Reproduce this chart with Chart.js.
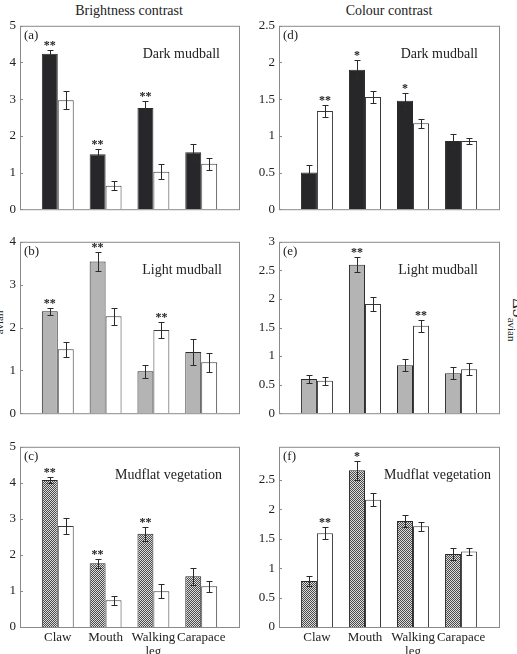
<!DOCTYPE html>
<html>
<head>
<meta charset="utf-8">
<script src="https://cdn.jsdelivr.net/npm/chart.js@4"></script>
<style>
body { margin: 0; background: #fff; }
#page { position: relative; width: 517px; height: 654px; overflow: hidden; font-family: "Liberation Serif", "DejaVu Serif", serif; color: #222; }
canvas { position: absolute; }
.title { position: absolute; top: 3px; font-size: 14px; transform: translateX(-50%); white-space: nowrap; }
.ylab { position: absolute; font-size: 16px; white-space: nowrap; line-height: 1; }
.ylab sub { font-size: 11px; }
</style>
</head>
<body>
<div id="page">
  <div class="title" style="left:129px">Brightness contrast</div>
  <div class="title" style="left:389px">Colour contrast</div>
  <div class="ylab" style="left:-5px; top:332px; transform: translate(-50%,-50%) rotate(-90deg)">ΔS<sub>avian</sub></div>
  <div class="ylab" style="left:516px; top:320px; transform: translate(-50%,-50%) rotate(90deg)">ΔS<sub>avian</sub></div>
</div>
<script>
const categories = ['Claw', 'Mouth', ['Walking', 'leg'], 'Carapace']

// (a) brightness, dark mudball
const aFilled = [4.24, 1.50, 2.76, 1.55]
const aFilledErr = [0.09, 0.13, 0.2, 0.22]
const aOpen = [2.97, 0.64, 1.02, 1.24]
const aOpenErr = [0.24, 0.12, 0.2, 0.16]
const aFilledStars = ['**', '**', '**', '']
const aOpenStars = ['', '', '', '']
const aTicks = [0, 1, 2, 3, 4, 5]

// (b) brightness, light mudball
const bFilled = [2.38, 3.54, 0.98, 1.43]
const bFilledErr = [0.08, 0.23, 0.15, 0.31]
const bOpen = [1.49, 2.26, 1.94, 1.19]
const bOpenErr = [0.17, 0.2, 0.18, 0.22]
const bFilledStars = ['**', '**', '', '']
const bOpenStars = ['', '', '**', '']
const bTicks = [0, 1, 2, 3, 4]

// (c) brightness, mudflat vegetation
const cFilled = [4.08, 1.77, 2.59, 1.41]
const cFilledErr = [0.08, 0.12, 0.19, 0.24]
const cOpen = [2.80, 0.74, 0.99, 1.13]
const cOpenErr = [0.23, 0.12, 0.19, 0.15]
const cFilledStars = ['**', '**', '**', '']
const cOpenStars = ['', '', '', '']
const cTicks = [0, 1, 2, 3, 4, 5]

// (d) colour, dark mudball
const dFilled = [0.50, 1.90, 1.48, 0.93]
const dFilledErr = [0.1, 0.13, 0.11, 0.1]
const dOpen = [1.34, 1.53, 1.17, 0.93]
const dOpenErr = [0.08, 0.08, 0.06, 0.04]
const dFilledStars = ['', '*', '*', '']
const dOpenStars = ['**', '', '', '']
const dTicks = [0, 0.5, 1, 1.5, 2, 2.5]

// (e) colour, light mudball
const eFilled = [0.60, 2.60, 0.84, 0.70]
const eFilledErr = [0.07, 0.13, 0.1, 0.11]
const eOpen = [0.57, 1.91, 1.53, 0.77]
const eOpenErr = [0.07, 0.12, 0.11, 0.11]
const eFilledStars = ['', '**', '', '']
const eOpenStars = ['', '', '**', '']
const eTicks = [0, 0.5, 1, 1.5, 2, 2.5, 3]

// (f) colour, mudflat vegetation
const fFilled = [0.78, 2.66, 1.80, 1.24]
const fFilledErr = [0.08, 0.16, 0.11, 0.1]
const fOpen = [1.59, 2.16, 1.71, 1.28]
const fOpenErr = [0.1, 0.11, 0.08, 0.06]
const fFilledStars = ['', '*', '', '']
const fOpenStars = ['**', '', '', '']
const fTicks = [0, 0.5, 1, 1.5, 2, 2.5]

Chart.defaults.font.family = '"Liberation Serif", "DejaVu Serif", serif'
Chart.defaults.color = '#222'

// checkered fill for the vegetation panels
function hatch() {
    const c = document.createElement('canvas')
    c.width = 2
    c.height = 2
    const g = c.getContext('2d')
    g.fillStyle = '#dcdcdc'
    g.fillRect(0, 0, 2, 2)
    g.fillStyle = '#4a4a4a'
    g.fillRect(0, 0, 1, 1)
    g.fillRect(1, 1, 1, 1)
    return g.createPattern(c, 'repeat')
}

const extras = {
    id: 'extras',
    afterDatasetsDraw(chart) {
        const ctx = chart.ctx
        const y = chart.scales.y
        chart.data.datasets.forEach((ds, di) => {
            const meta = chart.getDatasetMeta(di)
            meta.data.forEach((bar, i) => {
                const v = ds.data[i].y
                const e = ds.err[i]
                const top = Math.round(y.getPixelForValue(v + e)) + 0.5
                const bot = Math.round(y.getPixelForValue(v - e)) + 0.5
                const x = Math.round(bar.x) + 0.5
                ctx.save()
                ctx.strokeStyle = '#2a2a2a'
                ctx.lineWidth = 1
                ctx.beginPath()
                ctx.moveTo(x, top); ctx.lineTo(x, bot)
                ctx.moveTo(x - 3, top); ctx.lineTo(x + 3, top)
                ctx.moveTo(x - 3, bot); ctx.lineTo(x + 3, bot)
                ctx.stroke()
                if (ds.stars[i]) {
                    ctx.fillStyle = '#222'
                    ctx.font = 'bold 12px "Liberation Serif", serif'
                    ctx.textAlign = 'center'
                    ctx.textBaseline = 'alphabetic'
                    ctx.fillText(ds.stars[i], bar.x, top - 2)
                }
                ctx.restore()
            })
        })
    },
    afterDraw(chart, args, opts) {
        const ctx = chart.ctx
        const a = chart.chartArea
        const y = chart.scales.y
        ctx.save()
        ctx.strokeStyle = '#8a8a8a'
        ctx.lineWidth = 1
        ctx.strokeRect(a.left + 0.5, a.top + 0.5, a.right - a.left, a.bottom - a.top)
        ctx.beginPath()
        y.ticks.forEach(t => {
            const py = Math.round(y.getPixelForValue(t.value)) + 0.5
            ctx.moveTo(a.left, py)
            ctx.lineTo(a.left + 3, py)
        })
        ctx.stroke()
        ctx.fillStyle = '#222'
        ctx.font = '13px "Liberation Serif", serif'
        ctx.textBaseline = 'middle'
        ctx.textAlign = 'left'
        ctx.fillText(opts.letter, a.left + 4, a.top + 10)
        ctx.font = '14px "Liberation Serif", serif'
        ctx.textAlign = 'right'
        ctx.fillText(opts.name, a.right - opts.nameRight, a.top + 29)
        ctx.restore()
    }
}

const panels = [
    { letter: '(a)', name: 'Dark mudball', nameRight: 19, left: 0, top: 14, width: 242, height: 207, yW: 20, xH: 10, fill: '#27272a', filled: aFilled, filledErr: aFilledErr, open: aOpen, openErr: aOpenErr, fStars: aFilledStars, oStars: aOpenStars, ticks: aTicks, max: 5, labels: false },
    { letter: '(b)', name: 'Light mudball', nameRight: 17, left: 0, top: 230, width: 242, height: 195, yW: 20, xH: 10, fill: '#b4b4b4', filled: bFilled, filledErr: bFilledErr, open: bOpen, openErr: bOpenErr, fStars: bFilledStars, oStars: bOpenStars, ticks: bTicks, max: 4, labels: false },
    { letter: '(c)', name: 'Mudflat vegetation', nameRight: 17, left: 0, top: 435, width: 242, height: 219, yW: 20, xH: 27, fill: 'hatch', filled: cFilled, filledErr: cFilledErr, open: cOpen, openErr: cOpenErr, fStars: cFilledStars, oStars: cOpenStars, ticks: cTicks, max: 5, labels: true },
    { letter: '(d)', name: 'Dark mudball', nameRight: 21, left: 249, top: 14, width: 253, height: 207, yW: 30, xH: 10, fill: '#27272a', filled: dFilled, filledErr: dFilledErr, open: dOpen, openErr: dOpenErr, fStars: dFilledStars, oStars: dOpenStars, ticks: dTicks, max: 2.5, labels: false },
    { letter: '(e)', name: 'Light mudball', nameRight: 21, left: 249, top: 230, width: 253, height: 195, yW: 30, xH: 10, fill: '#b4b4b4', filled: eFilled, filledErr: eFilledErr, open: eOpen, openErr: eOpenErr, fStars: eFilledStars, oStars: eOpenStars, ticks: eTicks, max: 3, labels: false },
    { letter: '(f)', name: 'Mudflat vegetation', nameRight: 8, left: 249, top: 435, width: 253, height: 219, yW: 30, xH: 27, fill: 'hatch', filled: fFilled, filledErr: fFilledErr, open: fOpen, openErr: fOpenErr, fStars: fFilledStars, oStars: fOpenStars, ticks: fTicks, max: 3.06, labels: true }
]

const page = document.querySelector('#page')

panels.forEach(p => {
    const canvas = document.createElement('canvas')
    canvas.width = p.width
    canvas.height = p.height
    canvas.style.left = p.left + 'px'
    canvas.style.top = p.top + 'px'
    page.appendChild(canvas)

    const toPoints = arr => arr.map((v, i) => ({ x: i, y: v }))

    new Chart(canvas, {
        type: 'bar',
        data: {
            datasets: [
                { data: toPoints(p.filled), err: p.filledErr, stars: p.fStars, backgroundColor: p.fill === 'hatch' ? hatch() : p.fill, borderColor: '#2a2a2a', borderWidth: 1 },
                { data: toPoints(p.open), err: p.openErr, stars: p.oStars, backgroundColor: '#fff', borderColor: '#3a3a3a', borderWidth: 1 }
            ]
        },
        options: {
            responsive: false,
            animation: false,
            layout: { padding: { top: 10, right: 3, left: 0, bottom: 0 } },
            datasets: { bar: { categoryPercentage: 0.667, barPercentage: 1 } },
            plugins: {
                legend: { display: false },
                tooltip: { enabled: false },
                extras: { letter: p.letter, name: p.name, nameRight: p.nameRight }
            },
            scales: {
                x: {
                    type: 'linear',
                    min: -0.79,
                    max: 3.79,
                    offset: false,
                    grid: { display: false, drawTicks: false },
                    border: { display: false },
                    afterBuildTicks: s => { s.ticks = categories.map((c, i) => ({ value: i })) },
                    afterFit: s => { s.height = p.xH },
                    ticks: {
                        display: p.labels,
                        padding: 3,
                        maxRotation: 0,
                        autoSkip: false,
                        font: { size: 13, lineHeight: 1.1 },
                        color: '#222',
                        callback: v => categories[v]
                    }
                },
                y: {
                    min: 0,
                    max: p.max,
                    grid: { display: false, drawTicks: false },
                    border: { display: false },
                    afterBuildTicks: s => { s.ticks = p.ticks.map(v => ({ value: v })) },
                    afterFit: s => { s.width = p.yW },
                    ticks: { padding: 4, font: { size: 13 }, color: '#222', callback: v => String(v) }
                }
            }
        },
        plugins: [extras]
    })
})
</script>
</body>
</html>
